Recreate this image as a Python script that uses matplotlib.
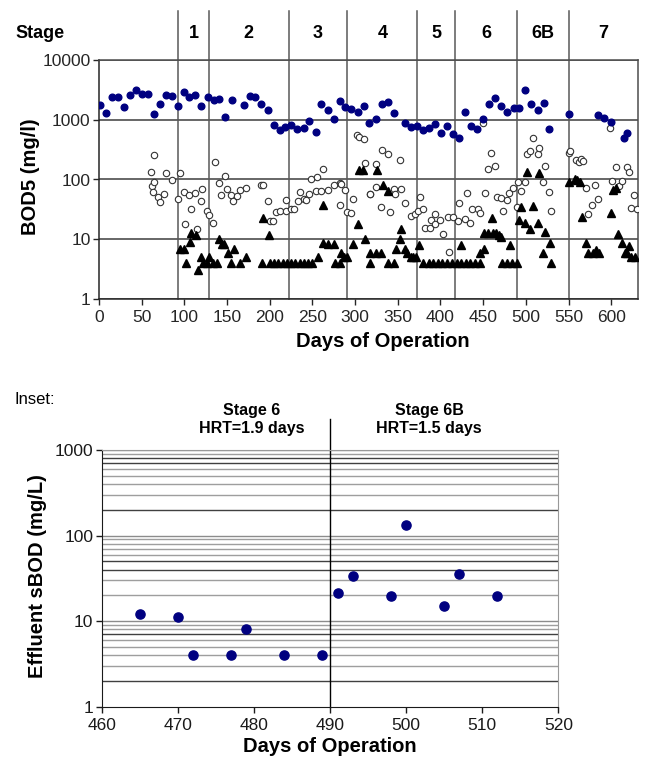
import matplotlib
matplotlib.use("Agg")
import matplotlib.pyplot as plt
from matplotlib.ticker import NullLocator
import matplotlib.transforms as mtransforms

plt.rcParams['font.family'] = ['Liberation Sans', 'DejaVu Sans']

# ---------------- data: main chart ----------------
stage_bounds = [93, 129, 222, 291, 373, 417, 490, 551]
stage_labels = ['1', '2', '3', '4', '5', '6', '6B', '7']

blue_days = [1, 8, 15, 22, 29, 36, 43, 50, 57, 64, 71, 78, 85, 93, 99, 106, 113, 120, 128, 135,
             141, 148, 156, 170, 177, 183, 190, 198, 205, 212, 218, 225, 232, 240, 246, 254, 260, 268, 275, 282,
             288, 295, 303, 310, 316, 324, 331, 338, 345, 358, 365, 373, 380, 387, 394, 401, 408, 415, 422, 429,
             436, 443, 450, 457, 464, 471, 478, 486, 492, 499, 506, 514, 521, 527, 551, 585, 592, 600, 615, 619]
blue_vals = [1770, 1310, 2400, 2400, 1620, 2630, 3100, 2740, 2740, 1270, 1860, 2570, 2500, 1720, 2910, 2400, 2570, 1700, 2400, 2170,
             2250, 1125, 2150, 1770, 2500, 2400, 1810, 1460, 820, 680, 750, 820, 700, 720, 950, 620, 1810, 1460, 1030, 2060,
             1630, 1500, 1360, 1700, 890, 1020, 1860, 1980, 1310, 870, 760, 800, 670, 720, 850, 610, 790, 580, 490, 1350,
             790, 690, 1030, 1810, 2340, 1700, 1350, 1570, 1570, 3100, 1860, 1440, 1900, 700, 1270, 1200, 1060, 910, 490, 590]

open_days = [61, 62, 63, 64, 64, 69, 71, 76, 78, 85, 93, 95, 99, 101, 106, 108, 113, 115, 120, 121,
             127, 129, 134, 136, 141, 143, 148, 150, 155, 157, 162, 165, 172, 190, 192, 198, 200, 204, 207, 212,
             219, 219, 225, 228, 233, 235, 240, 242, 246, 248, 254, 255, 260, 262, 268, 275, 282, 284, 288, 282,
             290, 295, 297, 302, 305, 310, 312, 317, 318, 324, 325, 330, 332, 338, 341, 345, 347, 352, 354, 359,
             366, 370, 374, 376, 380, 382, 388, 389, 394, 394, 400, 403, 409, 410, 415, 421, 422, 429, 431, 435,
             437, 444, 446, 450, 452, 456, 459, 464, 466, 471, 473, 478, 480, 485, 490, 491, 494, 499, 501, 505,
             508, 514, 515, 520, 522, 527, 529, 551, 552, 559, 562, 564, 567, 571, 573, 578, 581, 585, 599, 601,
             606, 609, 613, 619, 621, 623, 627, 630]
open_vals = [132, 78, 62, 91, 254, 50, 42, 58, 127, 98, 48, 127, 62, 18, 54, 32, 59, 15, 44, 69,
             30, 25, 19, 199, 86, 54, 115, 69, 55, 44, 52, 67, 73, 81, 81, 44, 20.5, 20.5, 29, 30,
             29.5, 45, 32, 32, 44, 61, 47, 45, 57, 103, 63, 109, 65, 150, 66, 81, 86, 83, 67, 37,
             29, 27, 47, 549, 508, 482, 187, 57, 57, 76, 180, 34, 312, 264, 29, 69, 57, 212, 69, 40,
             24.5, 26, 30, 50, 32, 15.4, 15.5, 21, 26.5, 17.8, 21, 12.2, 24, 6.2, 24, 20, 41, 22, 60, 19,
             32.5, 32.5, 28, 880, 60, 150, 281, 170, 51.5, 49, 30, 45, 59, 71, 34, 92, 65, 92, 267, 300,
             495, 272, 337, 92, 170, 61, 30, 275, 303, 212, 194, 218, 205, 71, 26, 37, 81, 47, 718, 95,
             160, 77, 95, 160, 132, 33, 54, 32]

tri_days = [95, 100, 102, 107, 108, 114, 116, 120, 122, 127, 129, 133, 138, 141, 144, 147, 151, 155, 158, 165,
            172, 191, 192, 199, 200, 205, 210, 215, 220, 225, 230, 235, 240, 245, 250, 256, 262, 262, 268, 275,
            277, 282, 284, 287, 290, 297, 303, 305, 309, 312, 317, 318, 324, 326, 330, 333, 339, 339, 345, 348,
            352, 354, 359, 361, 365, 368, 371, 375, 380, 386, 391, 397, 402, 408, 413, 419, 424, 430, 435, 441,
            446, 424, 446, 451, 451, 456, 460, 462, 465, 468, 471, 472, 478, 481, 484, 490, 492, 494, 499, 501,
            505, 508, 514, 515, 520, 522, 528, 529, 551, 557, 560, 563, 566, 571, 573, 579, 582, 586, 600, 602,
            606, 608, 613, 616, 618, 621, 623, 628]
tri_vals = [7, 7, 4, 9, 12.9, 12, 3, 5, 4, 4, 5, 4, 4, 10, 8.3, 8.3, 6, 4, 7, 4,
            5, 4, 22.4, 12, 4, 4, 4, 4, 4, 4, 4, 4, 4, 4, 4, 5, 37, 8.6, 8.3, 8.3,
            4, 4, 6, 5, 5, 8.3, 17.8, 144, 144, 10, 4, 6, 6, 144, 6, 81, 65, 4, 4, 7,
            10, 15, 7, 6, 5, 5, 5, 8, 4, 4, 4, 4, 4, 4, 4, 4, 4, 4, 4, 4,
            4, 8, 6, 7, 12.9, 12.9, 23, 12.9, 12.6, 11.8, 10.9, 4, 4, 8, 4, 4, 21, 34, 19, 132,
            15, 36, 19, 130, 6, 13, 8.8, 4, 92, 100, 97, 90, 24, 8.8, 6, 6, 6.5, 6, 28, 67,
            71, 12.2, 8.8, 6, 6, 7.8, 5, 5]

x_ticks = [0, 50, 100, 150, 200, 250, 300, 350, 400, 450, 500, 550, 600]
y_ticks = [1, 10, 100, 1000, 10000]
y_tick_labels = ['1', '10', '100', '1000', '10000']

# ---------------- data: inset ----------------
inset_days = [465, 470, 472, 477, 479, 484, 489, 491, 493, 498, 500, 505, 507, 512]
inset_vals = [12.2, 11.2, 4, 4, 8.1, 4, 4, 21.5, 34, 19.5, 133, 15.1, 36, 19.5]
inset_x_ticks = [460, 470, 480, 490, 500, 510, 520]
inset_y_ticks = [1, 10, 100, 1000]
inset_y_tick_labels = ['1', '10', '100', '1000']
inset_boundary = 490

W, H = 646, 760
fig = plt.figure(figsize=(W / 100, H / 100), dpi=100)
fig.patch.set_facecolor('white')

def fx(px):
    return px / W

def fy(py):
    return 1 - py / H

# ---------------- main axes ----------------
ax = fig.add_axes([fx(99), fy(299), fx(637.7) - fx(99), (299 - 60) / H])
ax.set_yscale('log')
ax.set_xlim(0, 631)
ax.set_ylim(1, 10000)
ax.set_yticks(y_ticks, labels=y_tick_labels)
ax.yaxis.set_minor_locator(NullLocator())
ax.set_xticks(x_ticks)
ax.tick_params(axis='both', which='major', labelsize=12.5, direction='out', length=4, width=1,
               colors='0.15', pad=2)
ax.tick_params(axis='x', pad=4)
ax.grid(axis='y', which='major', color='0.3', lw=1.2)
ax.set_axisbelow(True)
for s in ax.spines.values():
    s.set_color('0.3')
    s.set_linewidth(1.1)
ax.spines['left'].set_color('0.15')
ax.spines['bottom'].set_color('0.15')

trans = mtransforms.blended_transform_factory(ax.transData, ax.transAxes)
top_line = (299 - 11) / 239
for b in stage_bounds:
    ax.plot([b, b], [0, top_line], transform=trans, color='0.35', lw=1.1, clip_on=False, zorder=1)

edges = [0] + stage_bounds + [631]
lab_y = (299 - 33) / 239
for i, lab in enumerate(stage_labels):
    c = (edges[i + 1] + edges[i + 2]) / 2
    ax.text(c, lab_y, lab, transform=trans, ha='center', va='center', fontsize=13, fontweight='bold')
fig.text(fx(15), fy(33), 'Stage', ha='left', va='center', fontsize=13, fontweight='bold')

ax.plot(open_days, open_vals, 'o', ms=4.6, mfc='white', mec='0.2', mew=0.8, ls='none', zorder=3)
ax.plot(tri_days, tri_vals, '^', ms=5.5, color='black', ls='none', zorder=4)
ax.plot(blue_days, blue_vals, 'o', ms=4.8, color='#000080', ls='none', zorder=5)

fig.text(fx(383), fy(347), 'Days of Operation', ha='center', va='baseline', fontsize=14.5, fontweight='bold')
fig.text(fx(30), fy(177), 'BOD5 (mg/l)', ha='center', va='center', rotation=90, fontsize=14.5, fontweight='bold')

# ---------------- inset ----------------
ax2 = fig.add_axes([fx(101.7), fy(706.7), fx(558.3) - fx(101.7), (706.7 - 450) / H])
ax2.set_yscale('log')
ax2.set_xlim(460, 520)
ax2.set_ylim(1, 1000)
ax2.set_xticks(inset_x_ticks)
ax2.set_yticks(inset_y_ticks, labels=inset_y_tick_labels)
ax2.yaxis.set_minor_locator(NullLocator())
ax2.tick_params(axis='both', which='major', labelsize=12.5, direction='out', length=4, width=1,
                colors='0.1', pad=2)
ax2.tick_params(axis='x', pad=4)

dark = [2, 7, 40, 50, 200, 700, 800]
for dec in [1, 10, 100]:
    for m in range(2, 10):
        v = dec * m
        col = '0.25' if v in dark else '0.62'
        ax2.axhline(v, color=col, lw=1.0, zorder=0)
for v in [10, 100, 1000]:
    ax2.axhline(v, color='0.55', lw=1.0, zorder=0)

for s in ['top', 'right']:
    ax2.spines[s].set_color('0.6')
ax2.spines['left'].set_color('0.1')
ax2.spines['bottom'].set_color('0.1')

trans2 = mtransforms.blended_transform_factory(ax2.transData, ax2.transAxes)
ax2.plot([inset_boundary, inset_boundary], [0, (706.7 - 419) / 256.7], transform=trans2,
         color='black', lw=1.0, clip_on=False, zorder=2)

ax2.plot(inset_days, inset_vals, 'o', ms=6.6, color='#000080', ls='none', zorder=5)

fig.text(fx(252), fy(410), 'Stage 6', ha='center', va='center', fontsize=11.5, fontweight='bold')
fig.text(fx(252), fy(428), 'HRT=1.9 days', ha='center', va='center', fontsize=11.5, fontweight='bold')
fig.text(fx(429), fy(410), 'Stage 6B', ha='center', va='center', fontsize=11.5, fontweight='bold')
fig.text(fx(429), fy(428), 'HRT=1.5 days', ha='center', va='center', fontsize=11.5, fontweight='bold')
fig.text(fx(14), fy(400), 'Inset:', ha='left', va='center', fontsize=12)

fig.text(fx(330), fy(752), 'Days of Operation', ha='center', va='baseline', fontsize=14.5, fontweight='bold')
fig.text(fx(38), fy(576), 'Effluent sBOD (mg/L)', ha='center', va='center', rotation=90,
         fontsize=14.5, fontweight='bold')

fig.savefig('out.png', dpi=100, facecolor='white')
